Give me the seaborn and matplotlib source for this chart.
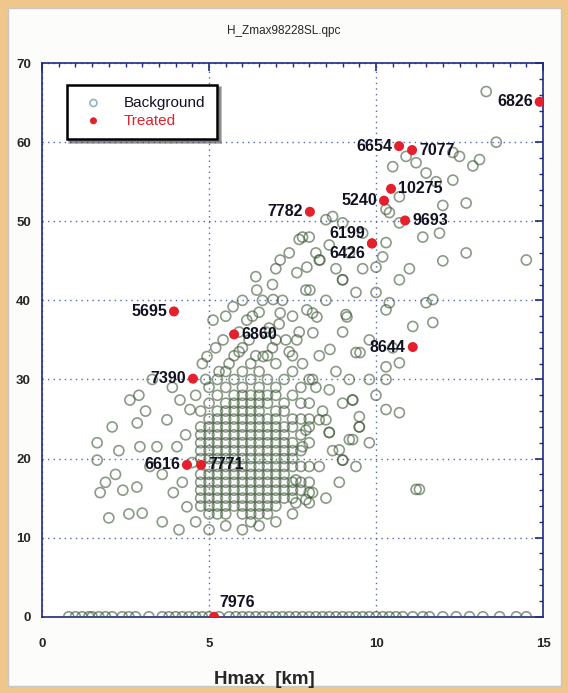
import numpy as np
import pandas as pd
import matplotlib.pyplot as plt
import matplotlib.patches as mpatches
from matplotlib.ticker import MultipleLocator
import seaborn as sns

# dense core of the background cloud: one column per Hmax step, Zmax values per column
core_x = [4.75, 5.0, 5.25, 5.5, 5.75, 6.0, 6.25, 6.5, 6.75, 7.0, 7.25, 7.5, 7.75, 8.0]
core_y = [
    [14, 15, 16, 17, 18, 20, 21, 22, 23, 24, 26],
    [13, 14, 15, 16, 17, 18, 19, 20, 21, 22, 23, 24, 25, 27, 29],
    [13, 14, 15, 16, 17, 18, 19, 20, 21, 22, 23, 24, 25, 26, 28, 30],
    [13, 14, 15, 16, 17, 18, 19, 20, 21, 22, 23, 24, 25, 26, 27, 29, 31],
    [14, 15, 16, 17, 18, 19, 20, 21, 22, 23, 24, 25, 26, 27, 28, 30, 33],
    [13, 14, 15, 16, 17, 18, 19, 20, 21, 22, 23, 24, 25, 26, 27, 28, 29, 31, 34],
    [12, 13, 14, 15, 16, 17, 18, 19, 20, 21, 22, 23, 24, 25, 26, 27, 28, 30, 32],
    [13, 14, 15, 16, 17, 18, 19, 20, 21, 22, 23, 24, 25, 26, 27, 28, 29, 31],
    [13, 14, 15, 16, 17, 18, 19, 20, 21, 22, 23, 24, 25, 27, 28, 30, 33],
    [14, 15, 16, 17, 18, 19, 20, 21, 22, 23, 24, 25, 26, 28, 29, 32, 35],
    [15, 16, 17, 18, 19, 20, 21, 22, 23, 24, 26, 27, 30],
    [15, 16, 17, 19, 20, 21, 22, 24, 25, 28, 31],
    [16, 17, 19, 21, 23, 25, 27, 29],
    [17, 19, 22, 24, 27, 30],
]

# scattered background points
scat_x = [2.63, 2.85, 1.65, 1.65, 1.74, 2.93, 2.84, 2.42, 3.0, 3.74, 4.13, 4.04, 3.93, 4.34,
          4.43, 3.44, 3.23, 2.2, 3.6, 4.2, 4.5, 3.1, 2.6, 3.9,
          7.13, 7.63, 7.93, 8.32, 9.0, 8.02, 6.92, 6.43, 6.13, 5.72, 5.12, 7.13, 7.93, 8.23,
          9.13, 6.62, 7.63, 8.11, 8.62, 9.52, 4.94, 5.42, 6.8, 7.4, 5.9, 6.5,
          13.3, 13.1, 12.3, 12.5, 10.9, 11.2, 10.5, 11.5, 12.3, 12.7, 10.7, 10.3, 10.4, 8.7,
          9.0, 10.7, 10.3, 10.2, 10.0, 12.7, 14.5, 8.0, 8.2, 9.0, 10.7, 7.9, 8.3, 10.4, 11.7,
          8.5, 7.7, 9.6, 11.9,
          8.1, 9.1, 10.3, 11.5, 11.1, 11.7, 9.4, 10.3, 10.7, 9.2, 9.8, 10.3, 8.6, 9.3, 10.3,
          10.7, 9.5, 9.5, 8.6, 9.2, 8.9, 9.0, 11.2, 8.3, 8.1, 11.3,
          8.5, 8.6, 9.3, 9.5, 9.3, 9.0, 7.9, 7.8, 7.6, 8.1, 7.6, 7.9, 8.0, 8.0]
scat_y = [27.4, 24.5, 22.0, 19.8, 15.7, 21.5, 16.4, 16.0, 13.1, 24.9, 27.4, 21.5, 15.7, 13.9,
          26.2, 21.5, 19.0, 18.0, 18.0, 17.0, 19.5, 26.0, 13.0, 29.0,
          45.1, 43.5, 44.2, 45.1, 42.6, 41.3, 40.1, 41.3, 37.5, 39.2, 37.5, 38.4, 38.8, 37.9,
          37.9, 32.9, 35.0, 35.9, 33.8, 33.4, 32.9, 35.0, 36.5, 33.5, 36.0, 38.5,
          66.4, 57.8, 58.7, 58.2, 58.2, 57.4, 56.9, 56.1, 55.2, 52.3, 53.1, 51.5, 51.1, 50.6,
          49.8, 49.8, 47.3, 45.5, 44.2, 46.0, 45.1, 48.0, 46.0, 42.6, 42.6, 41.3, 45.1, 39.7,
          40.1, 50.2, 47.7, 44.0, 48.5,
          38.4, 38.2, 38.8, 39.7, 36.7, 37.2, 33.4, 31.6, 32.1, 30.0, 30.0, 30.0, 28.7, 27.4,
          26.2, 25.8, 25.3, 24.0, 23.3, 22.4, 21.1, 19.8, 16.1, 24.9, 30.0, 16.1,
          24.9, 23.3, 27.4, 24.0, 22.4, 19.8, 23.6, 21.5, 17.3, 15.7, 14.4, 14.8, 15.7, 14.4]

# more of the loose cloud around the core
fill_x = [5.3, 5.6, 5.9, 6.2, 6.4, 6.7, 6.9, 7.1, 7.3, 7.5, 5.5, 6.0, 6.3, 6.6, 6.9, 7.2,
          7.5, 7.7, 5.2, 4.9, 6.4, 7.0, 7.4, 7.8, 8.6, 9.2, 9.6, 8.8, 9.4, 8.5, 9.0, 8.3,
          9.8, 7.8, 8.2, 8.8, 9.0, 8.4, 8.0, 8.7, 8.3, 8.9, 8.5, 9.4, 9.8, 10.0, 10.5, 10.0,
          11.0, 11.4, 12.0, 12.0, 11.8, 12.9, 13.6, 4.6, 5.0, 5.5, 6.0, 6.5, 7.0, 7.5, 4.3,
          4.6, 4.8, 3.3, 2.9, 2.1, 2.3, 1.9, 2.0, 3.6, 4.1]
fill_y = [31, 32, 33.5, 35, 33, 36, 34, 37, 35, 33, 38, 40, 38, 40, 42, 40,
          38, 36, 34, 30, 43, 44, 46, 48, 47, 46, 48.5, 44, 41, 40, 36, 33,
          35, 32, 29, 31, 27, 26, 25, 21, 19, 17, 15, 19, 22, 28, 34, 41,
          44, 48, 52, 45, 55, 57, 60, 12, 11, 11.5, 11, 11.5, 12, 13, 23,
          28, 32, 30, 28, 24, 21, 17, 12.5, 12, 11]

# background points sitting on Zmax = 0
zero_x = [0.8, 1.0, 1.2, 1.4, 1.5, 1.7, 1.9, 2.1, 2.4, 2.6, 2.8, 3.2, 3.6, 3.8, 4.0, 4.2,
          4.4, 4.6, 4.8, 5.0, 5.3, 5.6, 5.8, 6.0, 6.2, 6.4, 6.6, 6.8, 7.0, 7.2, 7.4, 7.6,
          7.8, 8.0, 8.2, 8.4, 8.6, 8.8, 9.0, 9.2, 9.4, 9.6, 9.8, 10.0, 10.2, 10.4, 10.6,
          10.8, 11.1, 11.4, 11.6, 12.0, 12.4, 12.8, 13.2, 13.7, 14.2, 14.5]

# treated cases
treat_id = ["6826", "6654", "7077", "10275", "5240", "9693", "7782", "6199", "6426",
            "5695", "6860", "7390", "8644", "6616", "7771", "7976"]
treat_x = [14.9, 10.69, 11.08, 10.45, 10.24, 10.87, 8.02, 9.88, 9.88,
           3.95, 5.75, 4.52, 11.1, 4.34, 4.76, 5.15]
treat_y = [65.1, 59.5, 59.0, 54.1, 52.6, 50.1, 51.2, 47.2, 47.2,
           38.6, 35.7, 30.1, 34.1, 19.2, 19.2, 0.0]
label_side = ["left", "left", "right", "right", "left", "right", "left", "left_up", "left_down",
              "left", "right", "left", "left", "left", "right", "above"]

bx, by = [], []
for x, ys in zip(core_x, core_y):
    bx += [x] * len(ys)
    by += ys
bx += scat_x + fill_x + zero_x
by += scat_y + fill_y + [0.0] * len(zero_x)
bg = pd.DataFrame({"Hmax": bx, "Zmax": by})
tr = pd.DataFrame({"Hmax": treat_x, "Zmax": treat_y, "id": treat_id})

sns.set_style("white")
plt.rcParams["font.family"] = ["Liberation Sans", "DejaVu Sans"]

fig = plt.figure(figsize=(5.68, 6.93), dpi=100, facecolor="#efc68c")
fig.patches.append(mpatches.Rectangle((0.014, 0.010), 0.973, 0.978, transform=fig.transFigure,
                                      facecolor="#fcfcfa", edgecolor="#c8c8c0", lw=1,
                                      zorder=-10))
ax = fig.add_axes([0.074, 0.110, 0.882, 0.799])
ax.set_zorder(1)
ax.set_facecolor("white")

sns.scatterplot(data=bg, x="Hmax", y="Zmax", ax=ax, marker="o", s=52, facecolor="none",
                edgecolor="#3e5838", linewidth=1.2, alpha=0.6, label="Background", zorder=3)
sns.scatterplot(data=tr, x="Hmax", y="Zmax", ax=ax, marker="o", s=52, color="#e3202c",
                edgecolor="none", label="Treated", zorder=5)

offsets = {"left": ((-5, 0), "right", "center"), "right": ((5, 0), "left", "center"),
           "left_up": ((-5, 7), "right", "center"), "left_down": ((-5, -7), "right", "center"),
           "above": ((4, 5), "left", "bottom")}
for x, y, t, side in zip(treat_x, treat_y, treat_id, label_side):
    off, ha, va = offsets[side]
    ax.annotate(t, (x, y), xytext=off, textcoords="offset points", ha=ha, va=va,
                fontsize=11.5, fontweight="bold", color="#111122", zorder=6)

ax.set_xlim(0, 15)
ax.set_ylim(0, 70)
ax.xaxis.set_major_locator(MultipleLocator(5))
ax.xaxis.set_minor_locator(MultipleLocator(0.5))
ax.yaxis.set_major_locator(MultipleLocator(10))
ax.yaxis.set_minor_locator(MultipleLocator(2))
ax.tick_params(which="both", direction="in", top=True, right=True, color="#1f2a80",
               labelsize=9.5)
ax.tick_params(axis="x", pad=15)
ax.tick_params(axis="y", pad=8)
ax.tick_params(which="major", length=6, width=1.2)
ax.tick_params(which="minor", length=3, width=1.0)
for lab in ax.get_xticklabels() + ax.get_yticklabels():
    lab.set_fontweight("bold")
for sp in ax.spines.values():
    sp.set_color("#1f2a80")
    sp.set_linewidth(1.2)
ax.grid(True, which="major", color="#5566b5", linestyle=(0, (1, 3)), linewidth=1.0)

ax.set_xlabel("")
ax.set_ylabel("")
fig.text(0.465, 0.020, "Hmax  [km]", ha="center", va="center", fontsize=13.5,
         fontweight="bold")
fig.text(0.50, 0.955, "H_Zmax98228SL.qpc", ha="center", va="center", fontsize=8.5)

leg = ax.legend(loc="upper left", bbox_to_anchor=(0.034, 0.975), frameon=True, fancybox=False,
                shadow=True, fontsize=11, handletextpad=1.0, borderpad=0.75, labelspacing=0.25,
                markerscale=0.7)
leg.get_frame().set_edgecolor("black")
leg.get_frame().set_linewidth(1.8)
leg.get_texts()[0].set_color("#111122")
leg.get_texts()[1].set_color("#e3202c")
h0 = leg.legend_handles[0]
h0.set_edgecolor("#8fb5c0")
h0.set_alpha(1)

fig.savefig("out.png", dpi=100, facecolor=fig.get_facecolor())
